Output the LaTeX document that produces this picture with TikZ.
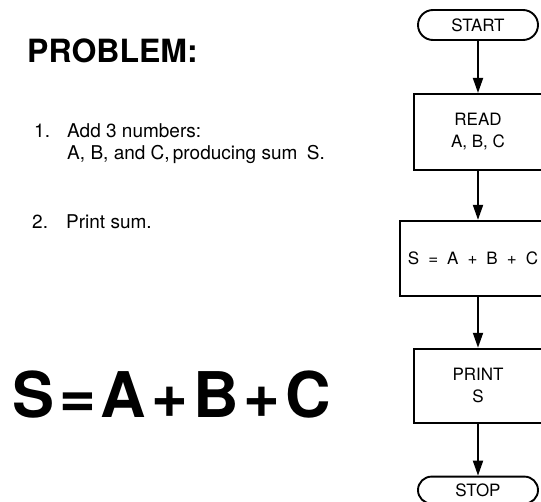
\documentclass[tikz,border=0pt]{standalone}
\usepackage{fontspec}
\setmainfont{TeX Gyre Heros}
\usetikzlibrary{arrows.meta,positioning,shapes.misc}

\begin{document}
\begin{tikzpicture}[x=1pt, y=-1pt,
  term/.style={rounded rectangle, draw, line width=1.9pt, minimum width=120pt,
               minimum height=30pt, inner sep=0pt, font=\fontsize{17}{20}\selectfont},
  block/.style={rectangle, draw, line width=1.9pt, minimum width=128pt, align=center,
                inner sep=0pt, font=\fontsize{17}{22}\selectfont},
  arr/.style={-{Triangle[length=15pt,width=10pt]}, line width=1.9pt},
  txt/.style={anchor=base west, inner sep=0pt, font=\fontsize{19}{22}\selectfont},
  node distance=51pt
]
  \useasboundingbox (0,0) rectangle (541,501);
  \clip (0,0) rectangle (541,501);

  % problem statement
  \node[txt, font=\bfseries\fontsize{32}{36}\selectfont] (title) at (27,62) {PROBLEM:};
  \node[txt] (num1) at (34,137) {1.};
  \node[txt] (item1a) at (67,137) {Add 3 numbers:};
  \node[txt] (item1b) at (67,159) {A, B, and C,\,producing sum\enspace S.};
  \node[txt] (num2) at (32,228) {2.};
  \node[txt] (item2) at (66,228) {Print sum.};
  \node[anchor=base west, inner sep=0pt, font=\bfseries\fontsize{63}{70}\selectfont] (formula) at (12,417)
    {S\kern5pt=\kern5pt A\kern5pt+\kern5pt B\kern5pt+\kern5pt C};

  % flowchart
  \node[term] (start) at (478,25) {START};
  \node[block, minimum height=76pt, below=52pt of start] (read) {READ\\A, B, C};
  \node[block, minimum width=146pt, minimum height=75pt, below=49pt of read, xshift=-5pt] (sum)
    {S\hspace{9pt}=\hspace{9pt}A\hspace{9pt}+\hspace{9pt}B\hspace{9pt}+\hspace{9pt}C};
  \node[block, minimum height=74pt, below=51pt of sum, xshift=5pt] (print) {PRINT\\S};
  \node[term, minimum height=27pt, below=52pt of print] (stop) {STOP};

  \draw[arr] (start.south) -- (read.north);
  \draw[arr] (read.south) -- (read.south |- sum.north);
  \draw[arr] (sum.south -| print.north) -- (print.north);
  \draw[arr] (print.south) -- (stop.north);
\end{tikzpicture}
\end{document}
